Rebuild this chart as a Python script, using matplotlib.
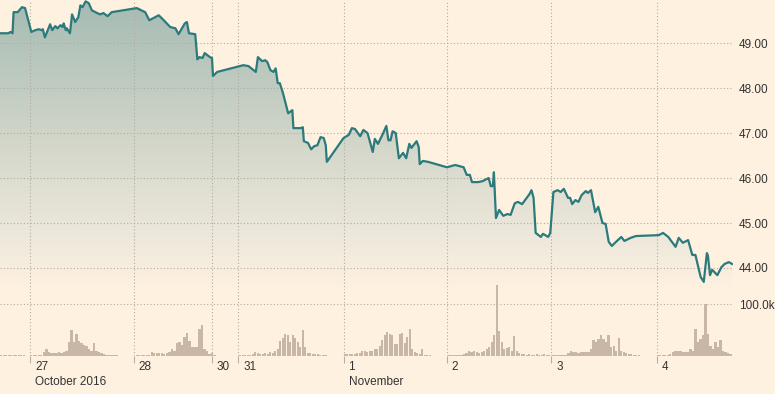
import numpy as np
import matplotlib
matplotlib.use("Agg")
import matplotlib.pyplot as plt
from matplotlib.colors import LinearSegmentedColormap
from matplotlib.transforms import offset_copy

# intraday price, x = trading days from the open of Oct 27 (compressed, no nights)
times = [
    -0.29, -0.21, -0.19, -0.17, -0.16, -0.12, -0.08, -0.05, 0.01, 0.05,
    0.08, 0.11, 0.12, 0.14, 0.19, 0.21, 0.24, 0.26, 0.29, 0.31,
    0.32, 0.34, 0.35, 0.38, 0.40, 0.43, 0.46, 0.48, 0.50, 0.53,
    0.56, 0.59, 0.64, 0.67, 0.70, 0.74, 0.78, 1.02, 1.10, 1.14,
    1.18, 1.23, 1.27, 1.34, 1.39, 1.42, 1.48, 1.50, 1.52, 1.58,
    1.60, 1.62, 1.65, 1.67, 1.72, 1.74, 1.75, 1.79, 2.04, 2.09,
    2.16, 2.18, 2.22, 2.25, 2.27, 2.30, 2.33, 2.35, 2.37, 2.39,
    2.42, 2.47, 2.51, 2.52, 2.59, 2.61, 2.62, 2.66, 2.69, 2.72,
    2.75, 2.78, 2.81, 2.83, 2.84, 3.00, 3.05, 3.08, 3.11, 3.16,
    3.19, 3.23, 3.28, 3.30, 3.33, 3.38, 3.41, 3.43, 3.45, 3.47,
    3.50, 3.53, 3.57, 3.60, 3.63, 3.65, 3.70, 3.72, 3.73, 3.76,
    3.81, 3.99, 4.07, 4.15, 4.18, 4.21, 4.23, 4.29, 4.33, 4.39,
    4.41, 4.43, 4.44, 4.46, 4.49, 4.53, 4.57, 4.60, 4.64, 4.67,
    4.71, 4.78, 4.80, 4.82, 4.84, 4.89, 4.91, 4.96, 4.98, 5.01,
    5.05, 5.08, 5.11, 5.15, 5.17, 5.19, 5.22, 5.25, 5.28, 5.32,
    5.34, 5.37, 5.41, 5.44, 5.48, 5.51, 5.54, 5.57, 5.60, 5.66,
    5.69, 5.75, 5.80, 6.02, 6.06, 6.11, 6.18, 6.21, 6.25, 6.30,
    6.34, 6.37, 6.42, 6.45, 6.48, 6.49, 6.51, 6.53, 6.58, 6.62,
    6.65, 6.69, 6.72,
]
prices = [
    49.22, 49.22, 49.25, 49.22, 49.69, 49.69, 49.80, 49.78, 49.25, 49.29,
    49.31, 49.29, 49.31, 49.13, 49.42, 49.29, 49.38, 49.33, 49.40, 49.36,
    49.44, 49.29, 49.33, 49.22, 49.64, 49.47, 49.58, 49.84, 49.80, 49.93,
    49.89, 49.73, 49.67, 49.64, 49.67, 49.60, 49.69, 49.78, 49.69, 49.51,
    49.56, 49.62, 49.53, 49.36, 49.33, 49.20, 49.44, 49.47, 49.22, 49.20,
    48.64, 48.69, 48.67, 48.78, 48.69, 48.67, 48.27, 48.36, 48.51, 48.49,
    48.36, 48.69, 48.60, 48.62, 48.58, 48.40, 48.36, 48.44, 48.11, 48.11,
    47.89, 47.44, 47.51, 47.11, 47.11, 47.13, 46.82, 46.78, 46.64, 46.71,
    46.73, 46.91, 46.89, 46.73, 46.36, 46.89, 46.96, 47.11, 47.09, 46.93,
    47.07, 47.00, 46.58, 46.87, 46.76, 47.00, 47.16, 46.84, 46.84, 47.04,
    47.00, 46.44, 46.56, 46.44, 46.76, 46.67, 46.82, 46.69, 46.31, 46.38,
    46.36, 46.24, 46.29, 46.24, 46.07, 46.07, 45.91, 45.91, 45.93, 46.00,
    45.82, 45.82, 46.13, 45.11, 45.29, 45.16, 45.20, 45.18, 45.44, 45.47,
    45.42, 45.64, 45.73, 45.56, 44.78, 44.69, 44.76, 44.69, 44.78, 45.69,
    45.73, 45.69, 45.76, 45.56, 45.56, 45.42, 45.51, 45.47, 45.62, 45.71,
    45.67, 45.73, 45.24, 45.36, 45.00, 44.98, 44.58, 44.49, 44.56, 44.69,
    44.60, 44.67, 44.71, 44.73, 44.78, 44.69, 44.47, 44.67, 44.56, 44.62,
    44.29, 44.29, 43.80, 43.69, 44.33, 44.27, 43.84, 43.96, 43.84, 44.02,
    44.09, 44.13, 44.09,
]

# volume per 10-minute bar, in thousands, one list per session
vol_oct26 = [1, 1, 1, 1, 1, 1, 1, 1, 1, 1]
vol_oct27 = [1, 1, 1, 1, 1.5, 7, 14, 8.5, 6, 6, 6, 7, 5, 7, 9, 27, 51, 27, 43, 30,
             25, 22, 19, 14, 10, 25, 9, 7, 5, 3, 2, 2, 2, 2, 2]
vol_oct28 = [1, 1, 1, 1, 1, 2, 8, 6, 5, 5, 5, 4, 6, 8, 14, 10, 25, 28, 22, 37,
             45, 30, 17, 18, 18, 52, 60, 14, 9, 4, 6, 2]
vol_oct31 = [1, 1, 1, 1, 2, 4, 7, 5, 4, 3, 5, 4, 7, 6, 9, 14, 30, 35, 43, 40,
             27, 40, 35, 27, 17, 51, 17, 5, 5, 4, 3, 3, 2, 2, 2]
vol_nov1 = [3, 3, 3, 3, 4, 5, 5, 9, 10, 8, 10, 9, 14, 14, 20, 31, 40, 47, 43, 40,
            24, 24, 43, 45, 25, 37, 53, 14, 7, 5, 4, 14, 1, 1, 1]
vol_nov2 = [1, 1, 1, 1, 2, 2, 3, 5, 10, 7, 10, 8.5, 5, 8.5, 10, 14, 17, 27, 40, 138,
            48, 27, 14, 15, 17, 10, 38, 10, 5, 3, 3, 2, 3, 2, 2, 3, 2, 2, 3, 2, 2]
vol_nov3 = [1, 1, 1, 1, 1, 2, 5, 9, 8, 7, 6, 7, 7, 7, 8.5, 14, 31, 28, 33, 40,
            33, 27, 41, 17, 20, 10, 35, 10, 7, 5, 3, 3, 2, 2, 2]
vol_nov4 = [1, 1, 1, 2, 2, 3, 8.5, 9, 10, 9, 8.5, 7, 7, 14, 10, 53, 27, 33, 40, 100,
            43, 20, 14, 28, 17, 31, 10, 7, 5, 4]
session_starts = [-0.29, 0.0, 1.01, 2.0, 3.0, 4.0, 5.0, 6.0]
bar_step = 0.024

tick_pos = [0.0, 0.99, 1.74, 1.99, 3.0, 3.99, 4.99, 6.0]
tick_labels = ["27", "28", "30", "31", "1", "2", "3", "4"]
month_labels = {0.0: "October 2016", 3.0: "November"}
price_ticks = [44, 45, 46, 47, 48, 49]

BG = "#fff1e0"
LINE = "#2b7a7c"
GRID = "#b3aaa0"
TEXT = "#333333"
BAR = "#c8b7a4"

plt.rcParams["font.family"] = ["Liberation Sans", "DejaVu Sans"]
plt.rcParams["font.size"] = 8.5

W, H = 775, 394
fig = plt.figure(figsize=(W / 100, H / 100), dpi=100, facecolor=BG)
ax = fig.add_axes([0, 1 - 290 / H, 733 / W, 290 / H])
axv = fig.add_axes([0, 1 - 356 / H, 733 / W, 66 / H])
xlim = (-0.29, 6.73)
ylim = (43.51, 49.96)

for a in (ax, axv):
    a.set_facecolor("none")
    for s in a.spines.values():
        s.set_visible(False)
    a.set_xlim(*xlim)
    a.set_xticks(tick_pos)
    a.grid(True, color=GRID, linestyle=(0, (1, 2)), linewidth=0.8)

# price area with vertical gradient fill fading into the background
poly = ax.fill_between(times, prices, ylim[0], color="none", linewidth=0)
cmap = LinearSegmentedColormap.from_list(
    "fade", [(0.0, "#a5bbb3"), (0.5, "#d3d7ca"), (0.85, "#f0eadd"), (1.0, BG)])
grad = np.linspace(0, 1, 256).reshape(-1, 1)
im = ax.imshow(grad, cmap=cmap, aspect="auto", origin="upper",
               extent=[xlim[0], xlim[1], ylim[0], ylim[1]], zorder=0.8)
im.set_clip_path(poly.get_paths()[0], transform=ax.transData)
ax.plot(times, prices, color=LINE, linewidth=1.6, solid_joinstyle="round", zorder=3)
ax.set_xlim(*xlim)
ax.set_ylim(*ylim)
ax.set_yticks(price_ticks)
ax.set_yticklabels([f"{v:.2f}" for v in price_ticks])
ax.yaxis.tick_right()
ax.tick_params(axis="y", length=0, pad=4, labelcolor=TEXT)
ax.tick_params(axis="x", length=0, labelbottom=False)

# volume bars
sessions = [vol_oct26, vol_oct27, vol_oct28, vol_oct31, vol_nov1, vol_nov2, vol_nov3, vol_nov4]
for start, vols in zip(session_starts, sessions):
    xs = start + bar_step * np.arange(len(vols))
    axv.bar(xs, np.array(vols) * 1000, width=0.021, align="edge",
            color=BAR, linewidth=0, clip_on=False, zorder=2)
axv.set_ylim(0, 128000)
axv.set_yticks([100000])
axv.set_yticklabels(["100.0k"])
axv.yaxis.tick_right()
axv.tick_params(axis="y", length=0, pad=4, labelcolor=TEXT)
axv.tick_params(axis="x", direction="out", length=5, width=0.8, color="#b8aea3",
                labelbottom=False)

trans = axv.get_xaxis_transform()
for pos, lab in zip(tick_pos, tick_labels):
    axv.text(pos, 0, lab, transform=offset_copy(trans, fig=fig, x=5, y=-11, units="dots"),
             ha="left", va="center", color=TEXT)
    if pos in month_labels:
        axv.text(pos, 0, month_labels[pos],
                 transform=offset_copy(trans, fig=fig, x=5, y=-26, units="dots"),
                 ha="left", va="center", color=TEXT)

fig.savefig("out.png", dpi=100, facecolor=BG)
